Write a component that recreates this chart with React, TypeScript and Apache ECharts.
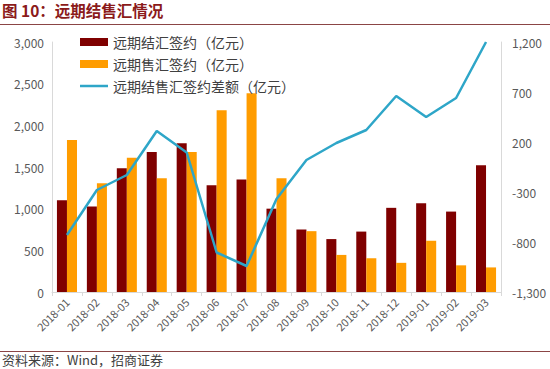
import React, { useEffect, useRef } from "react";
import * as echarts from "echarts";

const months = [
  "2018-01", "2018-02", "2018-03", "2018-04", "2018-05", "2018-06", "2018-07", "2018-08",
  "2018-09", "2018-10", "2018-11", "2018-12", "2019-01", "2019-02", "2019-03",
];
const settleValues = [1100, 1025, 1485, 1680, 1785, 1280, 1350, 1000, 750, 635, 725, 1010, 1065, 965, 1520];
const saleValues = [1825, 1305, 1610, 1365, 1680, 2180, 2385, 1365, 730, 445, 405, 350, 615, 320, 295];
const diffValues = [-730, -280, -130, 310, 95, -905, -1040, -370, 20, 190, 320, 660, 450, 640, 1200];
const leftTicks = { min: 0, max: 3000, interval: 500 };
const rightTicks = { min: -1300, max: 1200, interval: 500 };
const seriesNames = ["远期结汇签约（亿元）", "远期售汇签约（亿元）", "远期结售汇签约差额（亿元）"];

const FONT = "'Noto Sans CJK SC', 'Noto Sans', sans-serif";

export default function App() {
  const ref = useRef<HTMLDivElement>(null);
  useEffect(() => {
    const chart = echarts.init(ref.current!, null, { renderer: "svg" });
    chart.setOption({
      animation: false,
      textStyle: { fontFamily: FONT },
      grid: { left: 52, right: 49, top: 42, bottom: 77 },
      legend: {
        orient: "vertical",
        left: 75,
        top: 30,
        itemWidth: 28,
        itemHeight: 8,
        itemGap: 8,
        symbolKeepAspect: true,
        textStyle: { fontSize: 14, color: "#404040", fontFamily: FONT },
        data: [
          { name: seriesNames[0], icon: "rect" },
          { name: seriesNames[1], icon: "rect" },
          { name: seriesNames[2], icon: "path://M0,0H28V2.5H0Z" },
        ],
      },
      xAxis: {
        type: "category",
        data: months,
        axisLine: { lineStyle: { color: "#D9D9D9" } },
        axisTick: { show: true, length: 4, lineStyle: { color: "#D9D9D9" } },
        axisLabel: { rotate: 45, fontSize: 11, color: "#595959", interval: 0, margin: 8 },
      },
      yAxis: [
        {
          type: "value",
          min: leftTicks.min,
          max: leftTicks.max,
          interval: leftTicks.interval,
          splitLine: { show: false },
          axisLine: { show: true, lineStyle: { color: "#D9D9D9" } },
          axisTick: { show: false },
          axisLabel: {
            fontSize: 12,
            color: "#595959",
            margin: 8,
            formatter: (v: number) => v.toLocaleString("en-US"),
          },
        },
        {
          type: "value",
          min: rightTicks.min,
          max: rightTicks.max,
          interval: rightTicks.interval,
          splitLine: { show: false },
          axisLine: { show: true, lineStyle: { color: "#D9D9D9" } },
          axisTick: { show: false },
          axisLabel: {
            fontSize: 12,
            color: "#595959",
            margin: 11,
            formatter: (v: number) => v.toLocaleString("en-US"),
          },
        },
      ],
      series: [
        {
          name: seriesNames[0],
          type: "bar",
          data: settleValues,
          itemStyle: { color: "#7F0000" },
          barGap: "0%",
          barCategoryGap: "33%",
        },
        {
          name: seriesNames[1],
          type: "bar",
          data: saleValues,
          itemStyle: { color: "#FF9C00" },
          barGap: "0%",
          barCategoryGap: "33%",
        },
        {
          name: seriesNames[2],
          type: "line",
          yAxisIndex: 1,
          data: diffValues,
          symbol: "none",
          lineStyle: { color: "#2EA6C8", width: 2.5 },
          itemStyle: { color: "#2EA6C8" },
        },
      ],
      graphic: [
        {
          type: "text",
          left: 2,
          top: 2,
          style: {
            text: "图 10：远期结售汇情况",
            font: `bold 15.5px ${FONT}`,
            fill: "#8B1A1A",
          },
        },
        {
          type: "polyline",
          z: 100,
          shape: { points: [[0, 24.5], [550, 24.5]] },
          style: { stroke: "#8B4545", lineWidth: 1, fill: "none" },
        },
        {
          type: "polyline",
          z: 100,
          shape: { points: [[0, 351.5], [550, 351.5]] },
          style: { stroke: "#8B4545", lineWidth: 1, fill: "none" },
        },
        {
          type: "text",
          left: 2,
          top: 353,
          style: {
            text: "资料来源：Wind，招商证券",
            font: `13px ${FONT}`,
            fill: "#404040",
          },
        },
      ],
    });
    return () => chart.dispose();
  }, []);
  return (
    <div style={{ position: "fixed", left: 0, top: 0, width: 550, height: 369, background: "#fff" }}>
      <div ref={ref} style={{ position: "absolute", left: 0, top: 0, width: 550, height: 369 }} />
    </div>
  );
}
